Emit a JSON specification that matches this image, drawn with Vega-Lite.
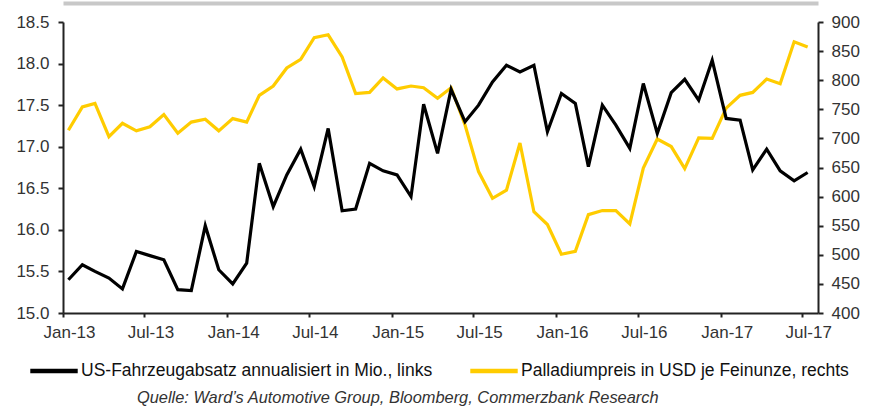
{
  "$schema": "https://vega.github.io/schema/vega-lite/v6.json",
  "autosize": {"type": "none"},
  "width": 755,
  "height": 291,
  "padding": {"left": 63, "top": 22, "right": 60, "bottom": 95},
  "background": "white",
  "config": {
    "font": "Liberation Sans",
    "view": {"stroke": null},
    "axis": {"grid": false, "domainColor": "#222", "domainWidth": 2, "tickColor": "#222", "tickWidth": 2, "tickSize": 5, "labelColor": "#333", "labelFontSize": 17, "labelFont": "Liberation Sans", "labelPadding": 8, "title": null},
    "legend": {"orient": "none", "direction": "horizontal", "legendX": -35, "legendY": 323, "padding": 0, "title": null, "symbolType": "stroke", "symbolStrokeWidth": 4.5, "symbolSize": 2250, "labelFontSize": 17.5, "labelFont": "Liberation Sans", "labelColor": "#111", "labelOffset": 1, "columnPadding": 28, "labelLimit": 500}
  },
  "title": {"text": "Quelle: Ward\u2019s Automotive Group, Bloomberg, Commerzbank Research", "orient": "bottom", "anchor": "start", "dx": 121, "offset": 10, "fontStyle": "italic", "fontWeight": "normal", "fontSize": 16.4, "color": "#333", "font": "Liberation Sans"},
  "data": {"values": [
    {"d": "2013/01/13", "car": 15.40, "pd": 714},
    {"d": "2013/02/13", "car": 15.58, "pd": 754},
    {"d": "2013/03/13", "car": 15.50, "pd": 760},
    {"d": "2013/04/13", "car": 15.42, "pd": 703},
    {"d": "2013/05/13", "car": 15.29, "pd": 726},
    {"d": "2013/06/13", "car": 15.74, "pd": 713},
    {"d": "2013/07/13", "car": 15.69, "pd": 720},
    {"d": "2013/08/13", "car": 15.64, "pd": 741},
    {"d": "2013/09/13", "car": 15.28, "pd": 709},
    {"d": "2013/10/13", "car": 15.27, "pd": 728},
    {"d": "2013/11/13", "car": 16.05, "pd": 733},
    {"d": "2013/12/13", "car": 15.52, "pd": 713},
    {"d": "2014/01/13", "car": 15.35, "pd": 734},
    {"d": "2014/02/13", "car": 15.60, "pd": 728},
    {"d": "2014/03/13", "car": 16.80, "pd": 774},
    {"d": "2014/04/13", "car": 16.28, "pd": 790},
    {"d": "2014/05/13", "car": 16.66, "pd": 821},
    {"d": "2014/06/13", "car": 16.97, "pd": 836},
    {"d": "2014/07/13", "car": 16.52, "pd": 873},
    {"d": "2014/08/13", "car": 17.22, "pd": 878},
    {"d": "2014/09/13", "car": 16.23, "pd": 840},
    {"d": "2014/10/13", "car": 16.25, "pd": 777},
    {"d": "2014/11/13", "car": 16.80, "pd": 779},
    {"d": "2014/12/13", "car": 16.71, "pd": 804},
    {"d": "2015/01/13", "car": 16.66, "pd": 785},
    {"d": "2015/02/13", "car": 16.40, "pd": 790},
    {"d": "2015/03/13", "car": 17.51, "pd": 787},
    {"d": "2015/04/13", "car": 16.92, "pd": 769},
    {"d": "2015/05/13", "car": 17.69, "pd": 787},
    {"d": "2015/06/13", "car": 17.30, "pd": 723},
    {"d": "2015/07/13", "car": 17.50, "pd": 643},
    {"d": "2015/08/13", "car": 17.78, "pd": 597},
    {"d": "2015/09/13", "car": 17.98, "pd": 611},
    {"d": "2015/10/13", "car": 17.90, "pd": 692},
    {"d": "2015/11/13", "car": 17.98, "pd": 574},
    {"d": "2015/12/13", "car": 17.18, "pd": 552},
    {"d": "2016/01/13", "car": 17.64, "pd": 501},
    {"d": "2016/02/13", "car": 17.52, "pd": 506},
    {"d": "2016/03/13", "car": 16.76, "pd": 569},
    {"d": "2016/04/13", "car": 17.50, "pd": 576},
    {"d": "2016/05/13", "car": 17.26, "pd": 576},
    {"d": "2016/06/13", "car": 16.98, "pd": 553},
    {"d": "2016/07/13", "car": 17.76, "pd": 649},
    {"d": "2016/08/13", "car": 17.16, "pd": 699},
    {"d": "2016/09/13", "car": 17.65, "pd": 686},
    {"d": "2016/10/13", "car": 17.81, "pd": 648},
    {"d": "2016/11/13", "car": 17.56, "pd": 701},
    {"d": "2016/12/13", "car": 18.04, "pd": 700},
    {"d": "2017/01/13", "car": 17.34, "pd": 752},
    {"d": "2017/02/13", "car": 17.32, "pd": 774},
    {"d": "2017/03/13", "car": 16.72, "pd": 779},
    {"d": "2017/04/13", "car": 16.97, "pd": 802},
    {"d": "2017/05/13", "car": 16.71, "pd": 794},
    {"d": "2017/06/13", "car": 16.59, "pd": 866},
    {"d": "2017/07/13", "car": 16.69, "pd": 857}
  ]},
  "layer": [
    {
      "mark": {"type": "line", "strokeWidth": 3.2, "clip": false},
      "encoding": {
        "x": {
          "field": "d", "type": "temporal",
          "scale": {"domain": [{"year": 2013, "month": 1, "date": 1}, {"year": 2017, "month": 8, "date": 5}]},
          "axis": {
            "orient": "bottom", "format": "%b-%y", "labelOffset": 6, "labelPadding": 7, "tickSize": 4, "labelFlush": false, "labelOverlap": false,
            "values": [
              {"year": 2013, "month": 1, "date": 1}, {"year": 2013, "month": 7, "date": 1},
              {"year": 2014, "month": 1, "date": 1}, {"year": 2014, "month": 7, "date": 1},
              {"year": 2015, "month": 1, "date": 1}, {"year": 2015, "month": 7, "date": 1},
              {"year": 2016, "month": 1, "date": 1}, {"year": 2016, "month": 7, "date": 1},
              {"year": 2017, "month": 1, "date": 1}, {"year": 2017, "month": 7, "date": 1}
            ]
          }
        },
        "y": {"field": "pd", "type": "quantitative", "scale": {"domain": [400, 900], "nice": false, "zero": false},
              "axis": {"orient": "right", "values": [400, 450, 500, 550, 600, 650, 700, 750, 800, 850, 900], "labelPadding": 8, "labelFlush": false}},
        "color": {"datum": "Palladiumpreis in USD je Feinunze, rechts", "type": "nominal",
                  "scale": {"domain": ["US-Fahrzeugabsatz annualisiert in Mio., links", "Palladiumpreis in USD je Feinunze, rechts"], "range": ["#000000", "#FFCC00"]}}
      }
    },
    {
      "mark": {"type": "line", "strokeWidth": 3.2, "clip": false},
      "encoding": {
        "x": {
          "field": "d", "type": "temporal",
          "axis": {"orient": "top", "offset": 19, "labels": false, "ticks": false, "domainColor": "#c8c8c8", "domainWidth": 4}
        },
        "y": {"field": "car", "type": "quantitative", "scale": {"domain": [15, 18.5], "nice": false, "zero": false},
              "axis": {"orient": "left", "values": [15, 15.5, 16, 16.5, 17, 17.5, 18, 18.5], "format": ".1f", "labelPadding": 9, "labelFlush": false}},
        "color": {"datum": "US-Fahrzeugabsatz annualisiert in Mio., links", "type": "nominal"}
      }
    }
  ],
  "resolve": {"scale": {"y": "independent"}, "axis": {"x": "independent"}}
}
